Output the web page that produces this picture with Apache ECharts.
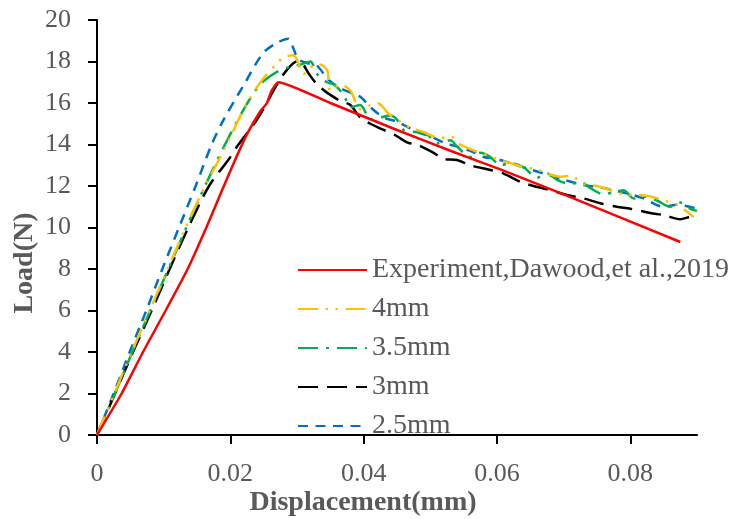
<!DOCTYPE html>
<html>
<head>
<meta charset="utf-8">
<script src="https://cdn.jsdelivr.net/npm/echarts@6/dist/echarts.min.js"></script>
<style>html,body{margin:0;padding:0;background:#fff}#c{width:736px;height:519px}</style>
</head>
<body>
<div id="c"></div>
<script>
// ---- data ----
const seriesNames = ['Experiment,Dawood,et al.,2019', '4mm', '3.5mm', '3mm', '2.5mm'];
const xTicks = [0, 0.02, 0.04, 0.06, 0.08];
const yTicks = [0, 2, 4, 6, 8, 10, 12, 14, 16, 18, 20];

const experiment = [[0,0],[0.0037,2],[0.0069,4],[0.0103,6],[0.0136,8],[0.0164,10],[0.0185,11.6],[0.0205,13.1],[0.0225,14.5],[0.0245,15.6],[0.0255,16.0],[0.0262,16.6],[0.0272,17.0],[0.035,16.0],[0.045,14.7],[0.053,13.7],[0.0605,12.8],[0.07,11.6],[0.0875,9.3]];

const mm4 = [[0,0],[0.0026,2],[0.0052,4],[0.0079,6],[0.0106,8],[0.0133,10],[0.0162,12],[0.019,13.7],[0.0225,16.0],[0.025,17.2],[0.027,17.9],[0.028,18.2],[0.0295,18.3],[0.031,17.4],[0.032,17.7],[0.033,17.9],[0.0345,17.6],[0.035,16.6],[0.0365,16.9],[0.038,16.6],[0.0395,15.7],[0.041,15.9],[0.042,16.0],[0.044,15.4],[0.046,15.0],[0.047,14.8],[0.049,14.6],[0.0515,14.3],[0.053,14.4],[0.0545,14.0],[0.057,13.65],[0.0585,13.5],[0.06,13.3],[0.062,13.1],[0.064,12.9],[0.066,12.8],[0.0675,12.6],[0.0695,12.45],[0.071,12.5],[0.073,12.1],[0.075,12.0],[0.077,11.8],[0.079,11.6],[0.081,11.57],[0.083,11.5],[0.085,11.3],[0.087,11.1],[0.0895,10.5]];

const mm35 = [[0,0],[0.0027,2],[0.0053,4],[0.008,6],[0.0107,8],[0.0134,10],[0.0162,12],[0.0192,14],[0.0222,15.8],[0.0245,16.9],[0.027,17.5],[0.029,17.75],[0.0305,17.85],[0.032,18.0],[0.033,17.4],[0.0345,17.0],[0.0355,16.9],[0.037,16.4],[0.038,15.8],[0.0395,15.9],[0.041,15.2],[0.0425,15.3],[0.044,15.4],[0.045,15.2],[0.046,14.7],[0.048,14.6],[0.0495,14.5],[0.051,14.06],[0.053,14.2],[0.054,13.9],[0.056,13.4],[0.0575,13.6],[0.059,13.4],[0.0605,13.0],[0.062,13.1],[0.064,12.9],[0.066,12.4],[0.0675,12.6],[0.069,12.3],[0.071,12.1],[0.0725,12.2],[0.074,11.9],[0.076,11.6],[0.0775,11.7],[0.079,11.8],[0.0805,11.4],[0.082,11.5],[0.084,11.3],[0.086,11.0],[0.0875,11.2],[0.089,10.9],[0.09,10.8]];

const mm3 = [[0,0],[0.0027,2],[0.0054,4],[0.0082,6],[0.0109,8],[0.0137,10],[0.0168,12],[0.0198,13.3],[0.021,13.9],[0.024,15.2],[0.0272,17.0],[0.0285,17.6],[0.030,18.0],[0.0308,17.9],[0.0318,17.4],[0.033,16.9],[0.0345,16.5],[0.0365,16.1],[0.038,15.9],[0.0395,15.3],[0.041,15.0],[0.043,14.7],[0.0445,14.5],[0.0465,14.1],[0.048,14.0],[0.0505,13.6],[0.052,13.3],[0.054,13.25],[0.056,13.0],[0.059,12.77],[0.061,12.6],[0.0635,12.2],[0.0655,12.0],[0.068,11.8],[0.0705,11.57],[0.073,11.4],[0.0755,11.17],[0.078,11.0],[0.080,10.9],[0.083,10.7],[0.085,10.6],[0.0875,10.4],[0.089,10.5],[0.09,10.4]];

const mm25 = [[0,0],[0.0025,2],[0.0049,4],[0.0074,6],[0.0098,8],[0.0123,10],[0.0148,12],[0.0172,14],[0.019,15.2],[0.0219,16.8],[0.0249,18.4],[0.027,18.9],[0.0287,19.1],[0.0295,18.6],[0.0302,18.1],[0.0318,17.9],[0.033,17.8],[0.0345,17.2],[0.036,16.8],[0.038,16.5],[0.0395,16.3],[0.041,15.8],[0.043,15.3],[0.045,15.1],[0.0465,14.86],[0.048,14.6],[0.05,14.4],[0.052,14.1],[0.054,13.9],[0.056,13.7],[0.058,13.4],[0.06,13.3],[0.063,13.0],[0.065,12.8],[0.068,12.5],[0.07,12.3],[0.073,12.05],[0.076,11.9],[0.08,11.6],[0.082,11.4],[0.085,11.0],[0.087,11.1],[0.09,10.9]];

const seriesData = [experiment, mm4, mm35, mm3, mm25];
// ---- styles ----
const colors = ['#FF0000', '#FFC000', '#00B050', '#000000', '#0070C0'];
const dashes = ['solid', [20, 7.5, 2.5, 7.5, 2.5, 7.5], [20, 8, 3, 8], [20, 9], [10, 7.5]];
const FONT = 'Liberation Serif';
const GREY = '#595959';

const chart = echarts.init(document.getElementById('c'), null, {renderer: 'canvas'});
chart.setOption({
  animation: false,
  backgroundColor: '#fff',
  grid: {left: 97, right: 39, top: 20, bottom: 84, containLabel: false},
  xAxis: {
    type: 'value', min: 0, max: 0.09, interval: 0.02,
    axisLine: {show: true, lineStyle: {color: '#000', width: 2}},
    axisTick: {show: true, length: 9, lineStyle: {color: '#000', width: 2}, customValues: xTicks},
    axisLabel: {margin: 26, color: GREY, fontFamily: FONT, fontSize: 26, customValues: xTicks,
      formatter: v => String(Math.round(v * 100) / 100)},
    splitLine: {show: false}
  },
  yAxis: {
    type: 'value', min: 0, max: 20, interval: 2,
    axisLine: {show: true, lineStyle: {color: '#000', width: 2}},
    axisTick: {show: true, length: 9, lineStyle: {color: '#000', width: 2}, customValues: yTicks},
    axisLabel: {margin: 26, color: GREY, fontFamily: FONT, fontSize: 26, customValues: yTicks},
    splitLine: {show: false}
  },
  legend: {
    orient: 'vertical', left: 292, top: 251,
    itemWidth: 69, itemHeight: 14, itemGap: 11,
    data: seriesNames,
    itemStyle: {opacity: 0},
    textStyle: {color: GREY, fontFamily: FONT, fontSize: 28, lineHeight: 28}
  },
  graphic: [
    {type: 'text', style: {text: 'Displacement(mm)', font: 'bold 28px "Liberation Serif"', fill: GREY, align: 'center', verticalAlign: 'middle', x: 363, y: 503}},
    {type: 'text', style: {text: 'Load(N)', font: 'bold 28px "Liberation Serif"', fill: GREY, align: 'center', verticalAlign: 'middle'}, x: 25, y: 263, rotation: Math.PI / 2}
  ],
  series: seriesNames.map((name, i) => ({
    name: name, type: 'line', data: seriesData[i],
    symbol: 'none', smooth: i === 0 ? 0.15 : 0.3,
    z: 10 - i,
    lineStyle: {color: colors[i], width: 2.5, type: dashes[i], cap: 'butt'},
    itemStyle: {color: colors[i]}
  }))
});
</script>
</body>
</html>
